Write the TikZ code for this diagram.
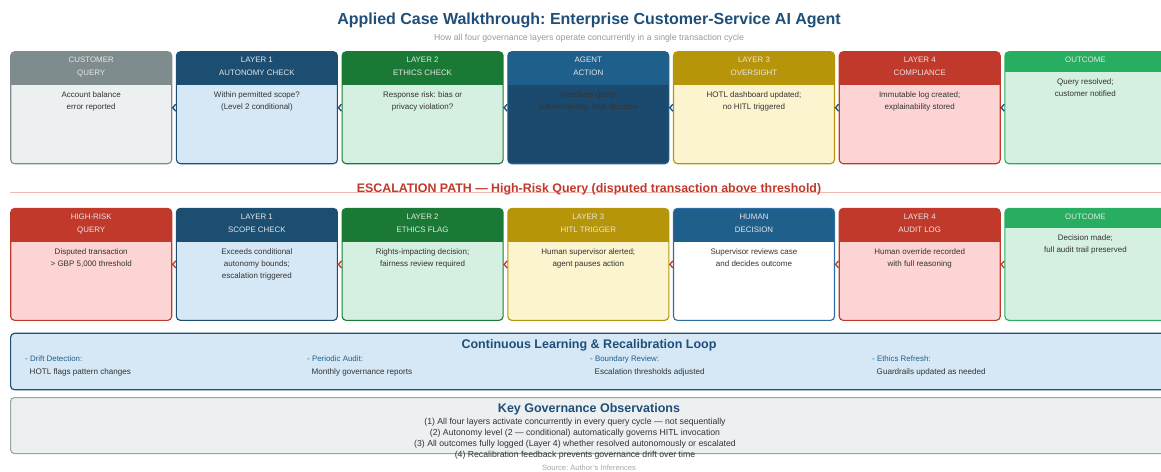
\documentclass[tikz,border=0pt]{standalone}
\usepackage{fontspec}
\setmainfont{Liberation Sans}
\usetikzlibrary{arrows.meta}
\frenchspacing

% colour schemes: Head = header band, Body = panel fill, Line = frame
\definecolor{navy}{HTML}{1F4E79}
\definecolor{inkgray}{HTML}{333333}
\definecolor{headink}{HTML}{E6E6E6}
\definecolor{gqHead}{HTML}{7F8C8D}\definecolor{gqBody}{HTML}{ECF0F1}\colorlet{gqLine}{gqHead}
\definecolor{lbHead}{HTML}{1C4E72}\definecolor{lbBody}{HTML}{D6E8F5}\colorlet{lbLine}{lbHead}
\definecolor{grHead}{HTML}{1A7A35}\definecolor{grBody}{HTML}{D5EFE1}\colorlet{grLine}{grHead}
\definecolor{agHead}{HTML}{1F5F8B}\definecolor{agBody}{HTML}{1B4A6E}\colorlet{agLine}{agHead}
\definecolor{ylHead}{HTML}{B7950B}\definecolor{ylBody}{HTML}{FCF3CF}\colorlet{ylLine}{ylHead}
\definecolor{rdHead}{HTML}{C0392B}\definecolor{rdBody}{HTML}{FDD4D4}\colorlet{rdLine}{rdHead}
\definecolor{okHead}{HTML}{27AE60}\definecolor{okBody}{HTML}{D5EFE0}\colorlet{okLine}{okHead}
\definecolor{hdHead}{HTML}{1F5F8B}\definecolor{hdBody}{HTML}{FFFFFF}\definecolor{hdLine}{HTML}{2E6DA4}
\definecolor{esc}{HTML}{C0392B}
\definecolor{escrule}{HTML}{F5B7B1}
\definecolor{itemblue}{HTML}{1F5F8B}
\definecolor{obsLine}{HTML}{95A5A6}

\tikzset{
  boxframe/.style={rectangle, inner sep=0pt, outer sep=0pt,
    minimum width=161pt, minimum height=112pt},
  headtext/.style={anchor=north, inner sep=0pt, align=center, text=headink,
    font=\fontsize{7.9}{13}\selectfont},
  bodytext/.style={anchor=north, inner sep=0pt, align=center, text=inkgray,
    font=\fontsize{8}{12}\selectfont},
  flow/.style={line width=1.3pt, -{Straight Barb[reversed, length=3pt, width=7pt]}},
  topflow/.style={flow, draw=navy},
  escflow/.style={flow, draw=esc},
  itemlab/.style={anchor=west, inner sep=0pt, text=itemblue,
    font=\fontsize{7.9}{9}\selectfont},
  itemval/.style={anchor=west, inner sep=0pt, text=inkgray,
    font=\fontsize{8.1}{9}\selectfont},
  obstext/.style={inner sep=0pt, text=inkgray, font=\fontsize{8.7}{10}\selectfont},
  paneltitle/.style={inner sep=0pt, text=navy, font=\fontsize{12.5}{14}\bfseries\selectfont},
}

% one stage panel: name, left x, top y, scheme, header depth, header text, body text
\newcommand{\govbox}[7]{%
  \node[boxframe, anchor=north west] (#1) at (#2,#3) {};
  \fill[#4Body, rounded corners=4pt] (#1.north west) rectangle (#1.south east);
  \begin{scope}
    \clip[rounded corners=4pt] (#1.north west) rectangle (#1.south east);
    \fill[#4Head] (#1.north west) rectangle ([yshift=-#5pt]#1.north east);
  \end{scope}
  \draw[#4Line, line width=1.1pt, rounded corners=4pt] (#1.north west) rectangle (#1.south east);
  \node[headtext] at ([yshift=-5.3pt]#1.north) {#6};
  \node[bodytext] at ([yshift=-#5pt-6.4pt]#1.north) {#7};
}

\begin{document}
\begin{tikzpicture}[x=1pt, y=-1pt]
\useasboundingbox (0,0) rectangle (1161,471);
\clip (0,0) rectangle (1161,471);

% heading
\node[inner sep=0pt, text=navy, font=\fontsize{16}{18}\bfseries\selectfont] (title) at (589,20)
  {Applied Case Walkthrough: Enterprise Customer-Service AI Agent};
\node[inner sep=0pt, text=gray!80, font=\fontsize{8.7}{10}\selectfont] (subtitle) at (589,38)
  {How all four governance layers operate concurrently in a single transaction cycle};

% routine path
\govbox{cq}{10.7}{51.7}{gq}{33.4}{CUSTOMER\\QUERY}{Account balance\\error reported}
\govbox{la}{176.4}{51.7}{lb}{33.4}{LAYER 1\\AUTONOMY CHECK}{Within permitted scope?\\(Level 2 conditional)}
\govbox{lb}{342.1}{51.7}{gr}{33.4}{LAYER 2\\ETHICS CHECK}{Response risk: bias or\\privacy violation?}
\govbox{ag}{507.8}{51.7}{ag}{33.4}{AGENT\\ACTION}{Resolves query\\autonomously; logs decision}
\govbox{lc}{673.5}{51.7}{yl}{33.4}{LAYER 3\\OVERSIGHT}{HOTL dashboard updated;\\no HITL triggered}
\govbox{ld}{839.2}{51.7}{rd}{33.4}{LAYER 4\\COMPLIANCE}{Immutable log created;\\explainability stored}
\govbox{oc}{1004.9}{51.7}{ok}{20}{OUTCOME}{Query resolved;\\customer notified}

\draw[topflow] (cq) -- (la);
\draw[topflow] (la) -- (lb);
\draw[topflow] (lb) -- (ag);
\draw[topflow] (ag) -- (lc);
\draw[topflow] (lc) -- (ld);
\draw[topflow] (ld) -- (oc);

% escalation divider
\draw[escrule, line width=1pt] (10,192) -- (1168,192);
\node[inner sep=0pt, text=esc, font=\fontsize{12.4}{14}\bfseries\selectfont] (esctitle) at (589,189)
  {ESCALATION PATH — High-Risk Query (disputed transaction above threshold)};

% escalation path
\govbox{hq}{10.7}{208.4}{rd}{33.4}{HIGH-RISK\\QUERY}{Disputed transaction\\> GBP 5,000 threshold}
\govbox{sa}{176.4}{208.4}{lb}{33.4}{LAYER 1\\SCOPE CHECK}{Exceeds conditional\\autonomy bounds;\\escalation triggered}
\govbox{sb}{342.1}{208.4}{gr}{33.4}{LAYER 2\\ETHICS FLAG}{Rights-impacting decision;\\fairness review required}
\govbox{sc}{507.8}{208.4}{yl}{33.4}{LAYER 3\\HITL TRIGGER}{Human supervisor alerted;\\agent pauses action}
\govbox{hd}{673.5}{208.4}{hd}{33.4}{HUMAN\\DECISION}{Supervisor reviews case\\and decides outcome}
\govbox{sd}{839.2}{208.4}{rd}{33.4}{LAYER 4\\AUDIT LOG}{Human override recorded\\with full reasoning}
\govbox{eo}{1004.9}{208.4}{ok}{20}{OUTCOME}{Decision made;\\full audit trail preserved}

\draw[escflow] (hq) -- (sa);
\draw[escflow] (sa) -- (sb);
\draw[escflow] (sb) -- (sc);
\draw[escflow] (sc) -- (hd);
\draw[escflow] (hd) -- (sd);
\draw[escflow] (sd) -- (eo);

% learning loop panel
\node[draw=navy, fill=lbBody, line width=1.2pt, rounded corners=4pt, inner sep=0pt,
  anchor=north west, minimum width=1158pt, minimum height=56.5pt] (loop) at (10,332.7) {};
\node[paneltitle] (looptitle) at (589,345) {Continuous Learning \& Recalibration Loop};
\node[itemlab] (l1) at (25,359) {- Drift Detection:};
\node[itemval] (v1) at (29.5,372) {HOTL flags pattern changes};
\node[itemlab] (l2) at (307,359) {- Periodic Audit:};
\node[itemval] (v2) at (311.5,372) {Monthly governance reports};
\node[itemlab] (l3) at (590,359) {- Boundary Review:};
\node[itemval] (v3) at (594.5,372) {Escalation thresholds adjusted};
\node[itemlab] (l4) at (872,359) {- Ethics Refresh:};
\node[itemval] (v4) at (876.5,372) {Guardrails updated as needed};

% observations panel
\node[draw=obsLine, fill=gqBody, line width=1.1pt, rounded corners=4pt, inner sep=0pt,
  anchor=north west, minimum width=1158pt, minimum height=56pt] (obs) at (10,397) {};
\node[paneltitle] (obstitle) at (589,409) {Key Governance Observations};
\node[obstext] (o1) at (575,422) {(1) All four layers activate concurrently in every query cycle — not sequentially};
\node[obstext] (o2) at (575,433) {(2) Autonomy level (2 — conditional) automatically governs HITL invocation};
\node[obstext] (o3) at (575,444) {(3) All outcomes fully logged (Layer 4) whether resolved autonomously or escalated};
\node[obstext] (o4) at (575,455) {(4) Recalibration feedback prevents governance drift over time};
\node[inner sep=0pt, text=gray!70, font=\fontsize{7.6}{9}\selectfont] (source) at (589,467.5)
  {Source: Author's Inferences};
\end{tikzpicture}
\end{document}
